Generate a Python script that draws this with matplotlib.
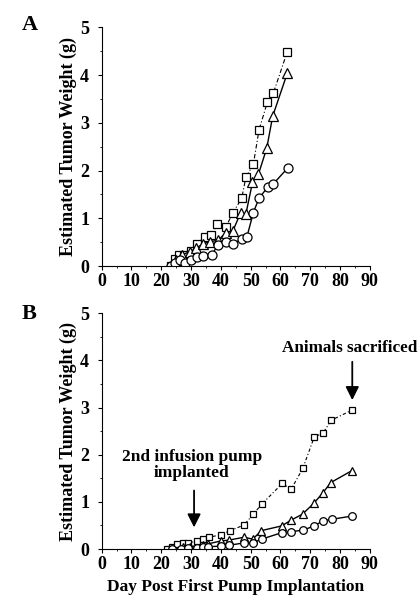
import matplotlib
matplotlib.use("Agg")
import matplotlib.pyplot as plt
from matplotlib.ticker import MultipleLocator

plt.rcParams['font.family'] = ['Liberation Serif', 'DejaVu Serif']
plt.rcParams['font.weight'] = 'bold'

# panel A
a_sq_x = [23.2, 24.7, 26.1, 27.5, 29.9, 31.9, 34.8, 36.8, 38.8, 41.7, 44.0, 47.0, 48.4, 50.9, 52.8, 55.6, 57.6, 62.3]
a_sq_y = [0.0, 0.14, 0.23, 0.23, 0.32, 0.47, 0.61, 0.64, 0.88, 0.82, 1.11, 1.42, 1.86, 2.13, 2.85, 3.43, 3.62, 4.49]
a_tr_x = [23.2, 24.9, 26.8, 29.6, 31.7, 34.1, 36.4, 39.1, 41.7, 44.0, 46.6, 48.4, 50.6, 52.6, 55.4, 57.4, 62.3]
a_tr_y = [0.0, 0.13, 0.23, 0.30, 0.37, 0.47, 0.51, 0.54, 0.70, 0.73, 1.11, 1.09, 1.75, 1.92, 2.47, 3.14, 4.04]
a_ci_x = [23.2, 24.6, 26.3, 28.0, 30.0, 31.9, 34.1, 36.9, 38.9, 41.7, 44.0, 47.0, 48.7, 50.9, 52.8, 55.7, 57.6, 62.4]
a_ci_y = [0.0, 0.06, 0.13, 0.06, 0.13, 0.18, 0.20, 0.22, 0.44, 0.51, 0.47, 0.56, 0.60, 1.12, 1.42, 1.65, 1.72, 2.05]

# panel B
b_sq_x = [21.8, 23.5, 25.2, 27.2, 29.1, 32.1, 34.1, 36.0, 39.9, 43.1, 47.8, 50.9, 53.7, 60.6, 63.6, 67.5, 71.3, 74.4, 77.0, 84.1]
b_sq_y = [0.01, 0.05, 0.10, 0.12, 0.12, 0.18, 0.21, 0.25, 0.30, 0.39, 0.51, 0.74, 0.95, 1.39, 1.27, 1.71, 2.37, 2.47, 2.73, 2.95]
b_tr_x = [23.5, 27.4, 29.6, 34.1, 35.8, 39.9, 42.8, 47.8, 50.7, 53.6, 60.4, 63.5, 67.4, 71.2, 74.2, 76.9, 83.9]
b_tr_y = [0.01, 0.04, 0.05, 0.09, 0.11, 0.17, 0.19, 0.25, 0.21, 0.39, 0.49, 0.61, 0.74, 0.97, 1.19, 1.41, 1.66]
b_ci_x = [23.5, 26.5, 29.1, 32.0, 34.1, 35.8, 39.9, 42.8, 47.8, 50.7, 53.7, 60.6, 63.7, 67.7, 71.2, 74.4, 77.2, 84.1]
b_ci_y = [0.0, 0.01, 0.02, 0.02, 0.04, 0.05, 0.06, 0.08, 0.13, 0.13, 0.21, 0.35, 0.37, 0.40, 0.49, 0.60, 0.63, 0.70]

fig = plt.figure(figsize=(4.19, 6.01), dpi=100)
axA = fig.add_axes([0.2427, 0.5574, 0.640, 0.3972])
axB = fig.add_axes([0.2427, 0.0865, 0.640, 0.3922])

mk = dict(markerfacecolor='white', markeredgecolor='black', markeredgewidth=0.9, color='black')

axA.plot(a_sq_x, a_sq_y, marker='s', markersize=6, lw=0.8, ls=(0, (4, 2, 1, 2)), **mk)
axA.plot(a_tr_x, a_tr_y, marker='^', markersize=6.5, lw=1.0, ls='-', **mk)
axA.plot(a_ci_x, a_ci_y, marker='o', markersize=6.5, lw=1.0, ls='-', **mk)

axB.plot(b_sq_x, b_sq_y, marker='s', markersize=5, lw=0.8, ls=(0, (1, 2, 3, 2)), **mk)
axB.plot(b_tr_x, b_tr_y, marker='^', markersize=5.5, lw=1.0, ls='-', **mk)
axB.plot(b_ci_x, b_ci_y, marker='o', markersize=5.5, lw=1.0, ls='-', **mk)

for ax in (axA, axB):
    ax.set_xlim(0, 90)
    ax.set_ylim(0, 5)
    ax.spines['top'].set_visible(False)
    ax.spines['right'].set_visible(False)
    ax.xaxis.set_major_locator(MultipleLocator(10))
    ax.xaxis.set_minor_locator(MultipleLocator(5))
    ax.yaxis.set_major_locator(MultipleLocator(1))
    ax.yaxis.set_minor_locator(MultipleLocator(0.5))
    ax.tick_params(which='major', length=3, width=0.8, labelsize=13, pad=2)
    ax.tick_params(axis='y', which='major', pad=6)
    ax.tick_params(which='minor', length=1.5, width=0.6)
    for lab in ax.get_xticklabels() + ax.get_yticklabels():
        lab.set_fontweight('bold')
    ax.set_ylabel('Estimated Tumor Weight (g)', fontsize=13, fontweight='bold', labelpad=2)
    ax.patch.set_visible(False)

axB.set_xlabel('Day Post First Pump Implantation', fontsize=12.5, fontweight='bold', labelpad=4)

fig.text(0.052, 0.958, 'A', fontsize=16, fontweight='bold', ha='left', va='center')
fig.text(0.052, 0.478, 'B', fontsize=16, fontweight='bold', ha='left', va='center')

axB.annotate('', xy=(31, 0.4), xytext=(31, 1.3),
             arrowprops=dict(arrowstyle='-|>', color='black', lw=1.3, mutation_scale=20))
axB.text(30.3, 1.78, '2nd infusion pump\nimplanted', ha='center', va='center',
         fontsize=12.5, fontweight='bold', linespacing=1.0)
axB.annotate('', xy=(84.1, 3.1), xytext=(84.1, 4.03),
             arrowprops=dict(arrowstyle='-|>', color='black', lw=1.3, mutation_scale=20))
axB.text(83.3, 4.27, 'Animals sacrificed', ha='center', va='center',
         fontsize=12.3, fontweight='bold')

fig.savefig('out.png', dpi=100)
